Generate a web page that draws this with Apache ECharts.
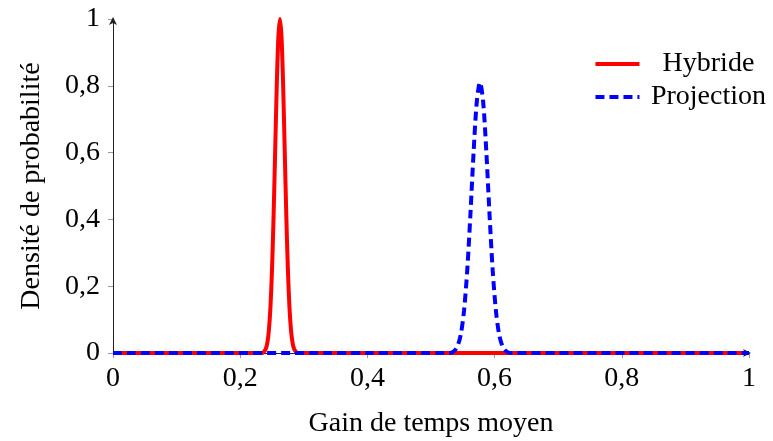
<!DOCTYPE html>
<html><head><meta charset="utf-8">
<script src="https://cdn.jsdelivr.net/npm/echarts@6/dist/echarts.min.js"></script>
<style>html,body{margin:0;padding:0;background:#fff}#c{width:773px;height:441px}</style>
</head><body><div id="c"></div>
<script>
var hybrideX = [0, 0.2, 0.235, 0.2375, 0.24, 0.2425, 0.245, 0.2475, 0.25, 0.2525, 0.255, 0.2575, 0.26, 0.2625, 0.265, 0.2675, 0.27, 0.2725, 0.275, 0.2775, 0.28, 0.2825, 0.285, 0.2875, 0.29, 0.4, 1];
var hybrideY = [0, 0, 0, 0.004, 0.011, 0.029, 0.066, 0.135, 0.249, 0.411, 0.607, 0.801, 0.946, 1, 0.946, 0.801, 0.607, 0.411, 0.249, 0.135, 0.066, 0.029, 0.011, 0.004, 0, 0, 0];
var projX = [0, 0.4, 0.53, 0.537, 0.542, 0.547, 0.552, 0.557, 0.562, 0.567, 0.572, 0.577, 0.582, 0.587, 0.592, 0.597, 0.602, 0.607, 0.612, 0.617, 0.624, 0.7, 1];
var projY = [0, 0, 0, 0.007, 0.022, 0.057, 0.128, 0.248, 0.416, 0.602, 0.752, 0.81, 0.752, 0.602, 0.416, 0.248, 0.128, 0.057, 0.022, 0.007, 0, 0, 0];
var seriesNames = ['Hybride', 'Projection'];
var xTicks = [0, 0.2, 0.4, 0.6, 0.8, 1];
var yTicks = [0, 0.2, 0.4, 0.6, 0.8, 1];

function pairs(xs, ys) { return xs.map(function (x, i) { return [x, ys[i]]; }); }
function fmt(v) { return String(Math.round(v * 10) / 10).replace('.', ','); }
var font = 'Liberation Serif';
var chart = echarts.init(document.getElementById('c'));
var axisCommon = {
  min: 0, max: 1, interval: 0.2,
  axisLine: { show: true, lineStyle: { color: '#222', width: 1 }, symbol: ['none', 'arrow'], symbolSize: [6, 8], symbolOffset: [0, 2] },
  axisTick: { show: true, length: 5, lineStyle: { color: '#999' } },
  splitLine: { show: false },
  nameTextStyle: { fontFamily: font, fontSize: 28, color: '#000' },
  axisLabel: { fontFamily: font, fontSize: 28, color: '#000', formatter: fmt }
};
chart.setOption({
  animation: false,
  backgroundColor: '#fff',
  grid: { left: 113, right: 24, top: 19, bottom: 88, containLabel: false, outerBoundsMode: 'none' },
  legend: {
    orient: 'vertical', right: 2, top: 45, itemWidth: 44, itemHeight: 14, itemGap: 5,
    data: seriesNames,
    itemStyle: { color: 'rgba(0,0,0,0)', borderWidth: 0, opacity: 0 },
    lineStyle: { width: 4 },
    formatter: function (n) { return '{c|' + n + '}'; },
    textStyle: { fontFamily: font, fontSize: 28, color: '#000', rich: { c: { width: 128, align: 'center', fontFamily: font, fontSize: 28 } } }
  },
  xAxis: Object.assign({}, axisCommon, {
    type: 'value', name: 'Gain de temps moyen', nameLocation: 'middle', nameGap: 57,
    axisLabel: Object.assign({}, axisCommon.axisLabel, { margin: 12 })
  }),
  yAxis: Object.assign({}, axisCommon, {
    type: 'value', name: 'Densité de probabilité', nameLocation: 'middle', nameGap: 67,
    axisLabel: Object.assign({}, axisCommon.axisLabel, { margin: 13 })
  }),
  series: [
    { name: seriesNames[0], type: 'line', data: pairs(hybrideX, hybrideY), smooth: 0.3, symbol: 'none', clip: true,
      lineStyle: { color: '#ff0000', width: 4 }, itemStyle: { color: '#ff0000' } },
    { name: seriesNames[1], type: 'line', data: pairs(projX, projY), smooth: 0.3, symbol: 'none', clip: true,
      lineStyle: { color: '#0000ff', width: 4, type: [9, 5] }, itemStyle: { color: '#0000ff' } }
  ]
});
</script></body></html>
